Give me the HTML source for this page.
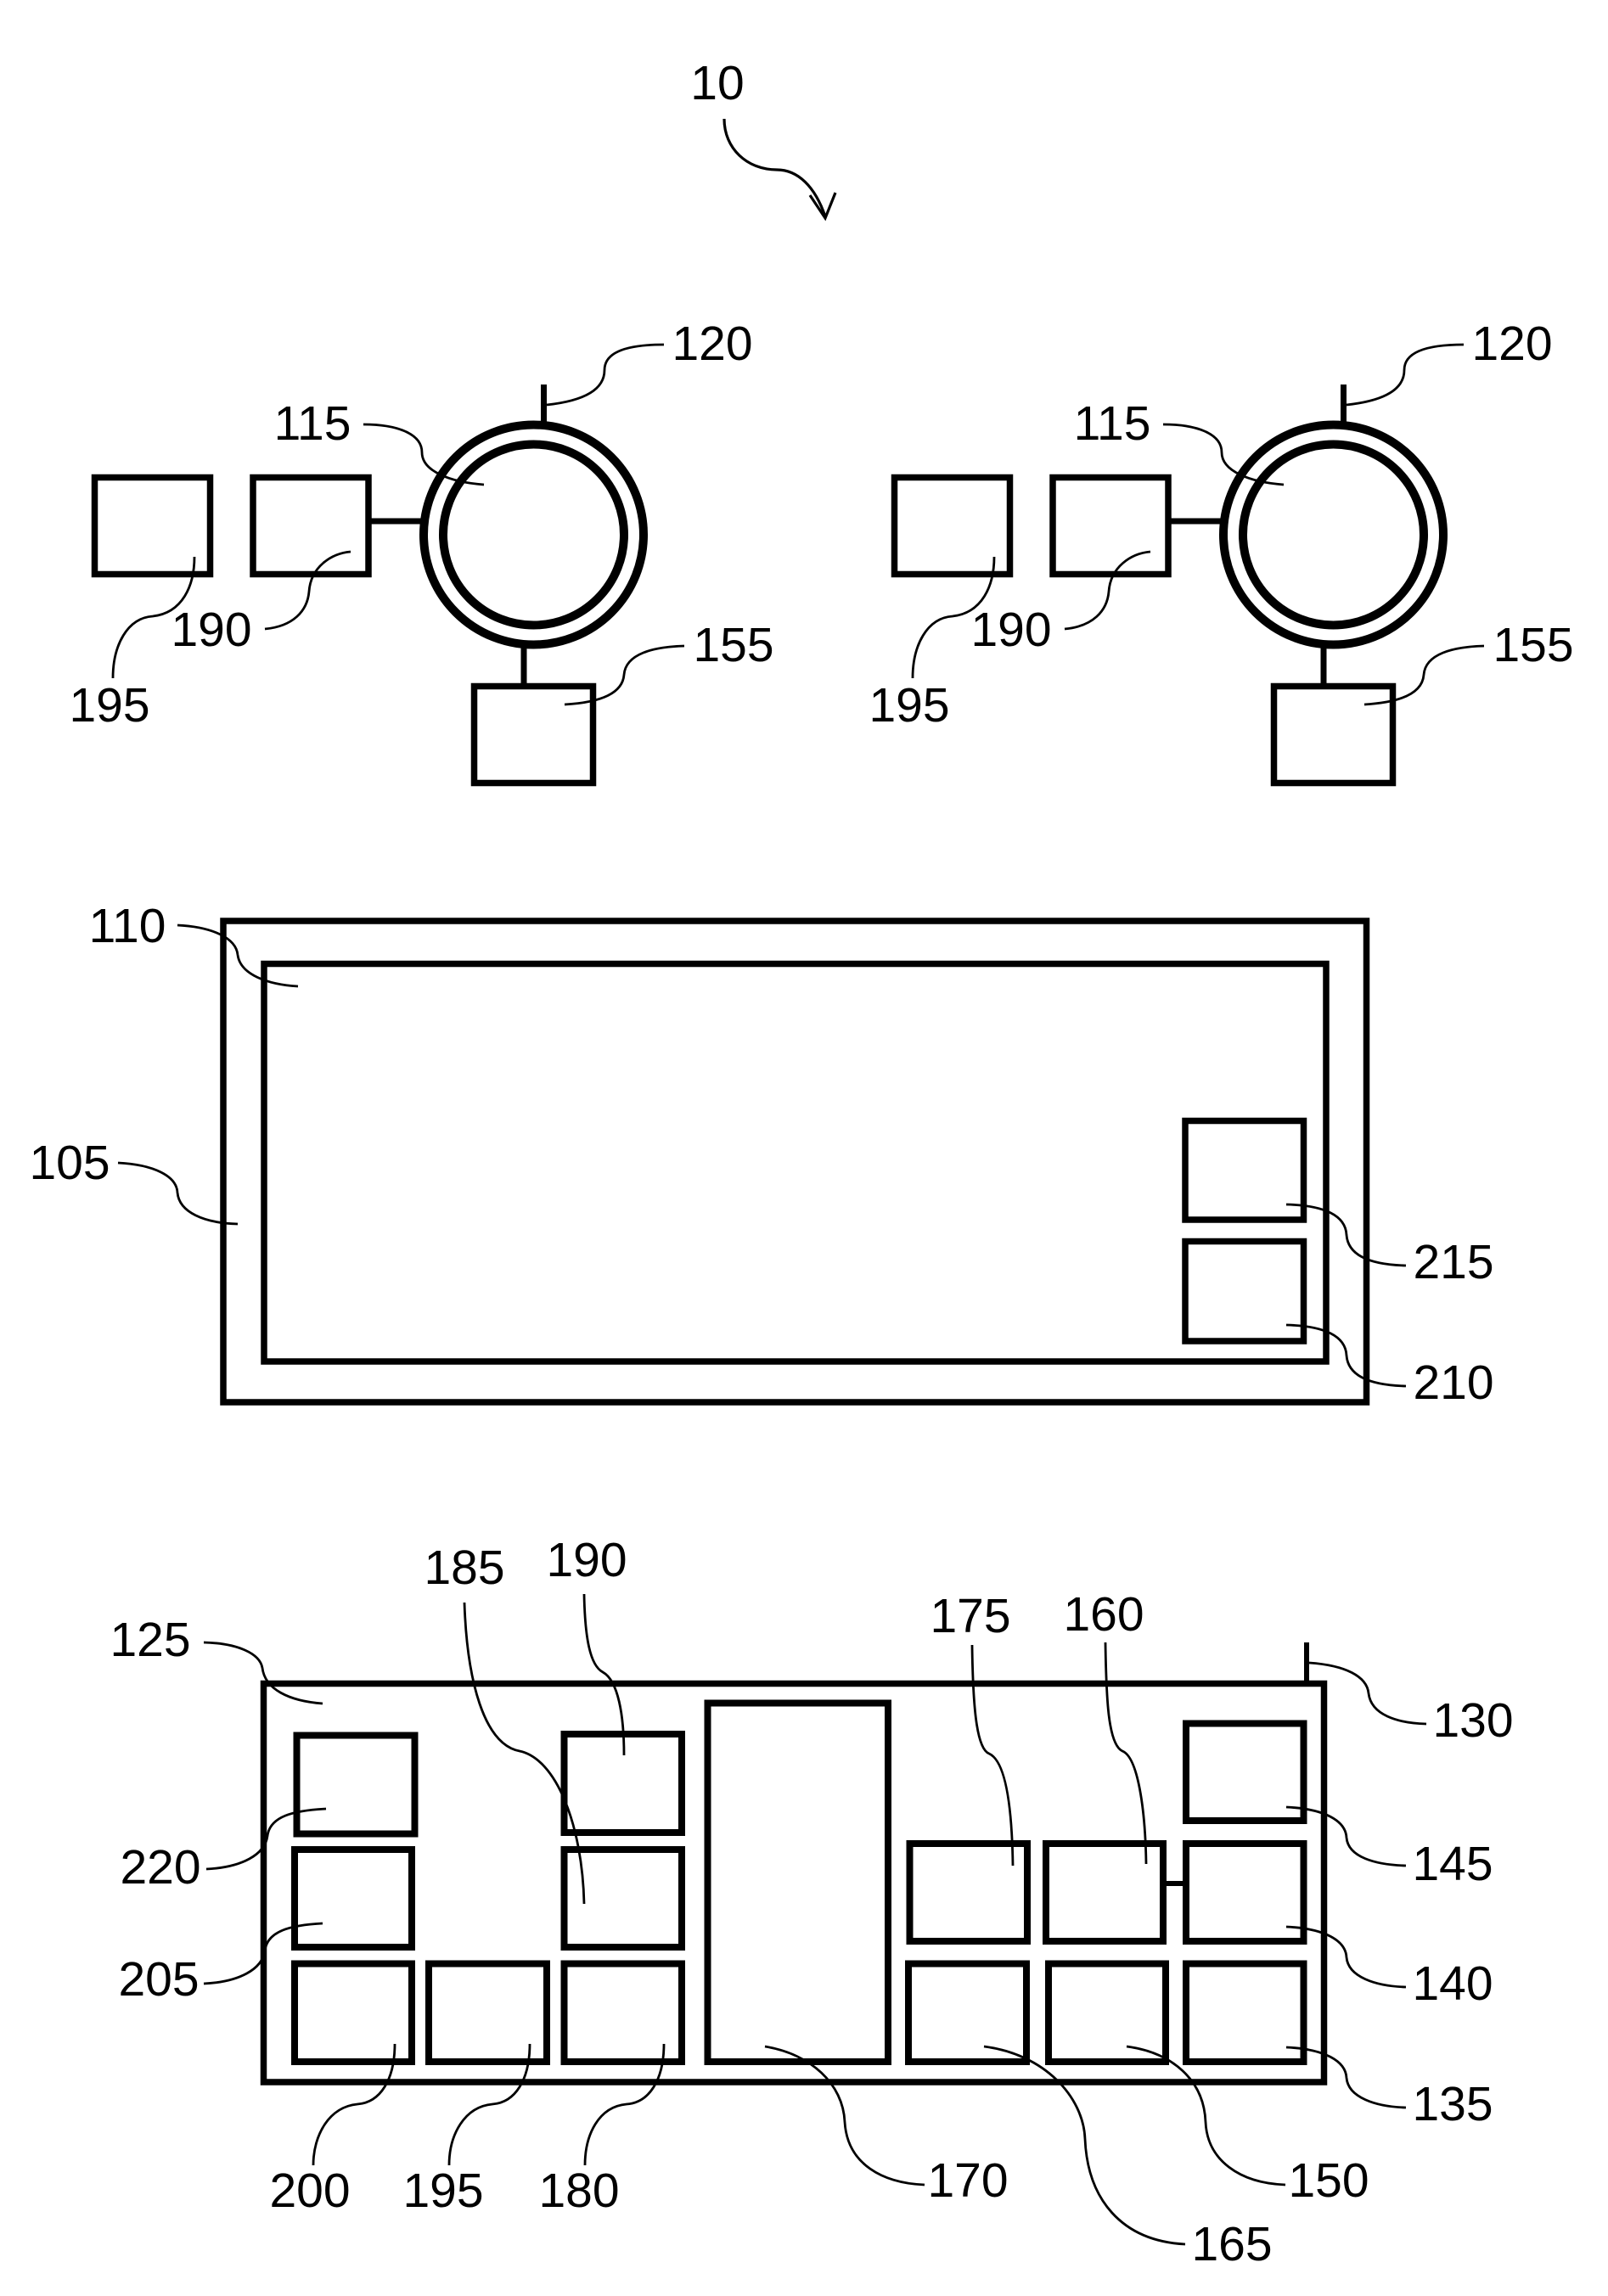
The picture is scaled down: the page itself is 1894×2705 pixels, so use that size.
<!DOCTYPE html>
<html>
<head>
<meta charset="utf-8">
<style>
  html, body { margin: 0; padding: 0; background: #ffffff; }
  svg { display: block; }
  text { font-family: "Liberation Sans", Arial, sans-serif; font-size: 57px; fill: #000; }
</style>
</head>
<body>
<svg width="1894" height="2705" viewBox="0 0 1894 2705" xmlns="http://www.w3.org/2000/svg">
  <rect x="0" y="0" width="1894" height="2705" fill="#fff"/>

  <!-- Figure reference 10 -->
  <text x="845" y="117" text-anchor="middle">10</text>
  <path d="M853,140 C853,175 880,200 915,200 C940,200 960,220 972,255" fill="none" stroke="#000" stroke-width="3.2"/>
  <polyline points="954,230 972,257 984,227" fill="none" stroke="#000" stroke-width="3.2"/>

  <!-- Top group (left), duplicated on right -->
  <g id="topgroup">
    <rect x="111.5" y="562.5" width="136" height="114" fill="none" stroke="#000" stroke-width="7.5"/>
    <rect x="298" y="562.5" width="136" height="114" fill="none" stroke="#000" stroke-width="7.5"/>
    <line x1="437" y1="614" x2="496" y2="614" stroke="#000" stroke-width="7"/>
    <circle cx="628.5" cy="630" r="129.5" fill="none" stroke="#000" stroke-width="10"/>
    <circle cx="628.5" cy="630" r="106.5" fill="none" stroke="#000" stroke-width="10"/>
    <line x1="640.5" y1="453" x2="640.5" y2="497" stroke="#000" stroke-width="7"/>
    <line x1="617" y1="762" x2="617" y2="806" stroke="#000" stroke-width="7"/>
    <rect x="558.5" y="808.5" width="140" height="114" fill="none" stroke="#000" stroke-width="7.5"/>

    <!-- leaders -->
    <path d="M644,477 C690,472 712,458 712,436 C712,414 740,406 782,406" fill="none" stroke="#000" stroke-width="2.8"/>
    <path d="M428,500 C470,500 497,512 497,533 C497,555 530,568 570,571" fill="none" stroke="#000" stroke-width="2.8"/>
    <path d="M312,741 C345,738 362,720 364,697 C366,668 390,652 413,650" fill="none" stroke="#000" stroke-width="2.8"/>
    <path d="M133,799 C133,760 150,728 180,726 C215,722 229,690 229,656" fill="none" stroke="#000" stroke-width="2.8"/>
    <path d="M806,761 C770,762 737,770 735,795 C733,820 700,828 665,830" fill="none" stroke="#000" stroke-width="2.8"/>

    <!-- labels -->
    <text x="839" y="424" text-anchor="middle">120</text>
    <text x="368" y="518" text-anchor="middle">115</text>
    <text x="249" y="761" text-anchor="middle">190</text>
    <text x="129" y="850" text-anchor="middle">195</text>
    <text x="864" y="779" text-anchor="middle">155</text>
  </g>
  <use href="#topgroup" transform="translate(942,0)"/>

  <!-- Middle section: 105 / 110 -->
  <rect x="263" y="1085" width="1346.5" height="567" fill="none" stroke="#000" stroke-width="7.5"/>
  <rect x="311" y="1135.5" width="1251" height="468.5" fill="none" stroke="#000" stroke-width="7.5"/>
  <rect x="1396" y="1320.5" width="139.5" height="116.5" fill="none" stroke="#000" stroke-width="7.5"/>
  <rect x="1396" y="1462.5" width="139.5" height="117.5" fill="none" stroke="#000" stroke-width="7.5"/>

  <path d="M209,1090 C250,1092 278,1105 280,1125 C283,1148 315,1160 351,1162" fill="none" stroke="#000" stroke-width="2.8"/>
  <path d="M139,1370 C180,1372 208,1385 209,1405 C211,1428 240,1441 280,1442" fill="none" stroke="#000" stroke-width="2.8"/>
  <path d="M1515,1419 C1560,1420 1585,1432 1586,1455 C1588,1480 1615,1490 1656,1491" fill="none" stroke="#000" stroke-width="2.8"/>
  <path d="M1515,1561 C1560,1562 1585,1574 1586,1597 C1588,1622 1615,1632 1656,1633" fill="none" stroke="#000" stroke-width="2.8"/>

  <text x="150" y="1110" text-anchor="middle">110</text>
  <text x="82" y="1389" text-anchor="middle">105</text>
  <text x="1712" y="1506" text-anchor="middle">215</text>
  <text x="1712" y="1648" text-anchor="middle">210</text>

  <!-- Bottom section: 125 -->
  <rect x="310.5" y="1983.5" width="1249" height="469.5" fill="none" stroke="#000" stroke-width="7.5"/>

  <!-- left column -->
  <rect x="349.5" y="2044.5" width="139" height="116" fill="none" stroke="#000" stroke-width="8"/>
  <rect x="347" y="2179" width="138" height="115" fill="none" stroke="#000" stroke-width="8"/>
  <rect x="347" y="2313.5" width="138" height="115.5" fill="none" stroke="#000" stroke-width="8"/>
  <!-- 195 -->
  <rect x="505" y="2313.5" width="139" height="115.5" fill="none" stroke="#000" stroke-width="8"/>
  <!-- 190 / 185 / 180 -->
  <rect x="664.5" y="2043" width="138.5" height="116" fill="none" stroke="#000" stroke-width="8"/>
  <rect x="664.5" y="2179" width="138.5" height="115" fill="none" stroke="#000" stroke-width="8"/>
  <rect x="664.5" y="2313.5" width="138.5" height="115.5" fill="none" stroke="#000" stroke-width="8"/>
  <!-- 170 -->
  <rect x="833.5" y="2006.5" width="212.5" height="422.5" fill="none" stroke="#000" stroke-width="8"/>
  <!-- 175 / 160 -->
  <rect x="1071.5" y="2172" width="138.5" height="115" fill="none" stroke="#000" stroke-width="8"/>
  <rect x="1232" y="2172" width="138" height="115" fill="none" stroke="#000" stroke-width="8"/>
  <!-- 165 / 150 -->
  <rect x="1070" y="2313.5" width="139" height="115.5" fill="none" stroke="#000" stroke-width="8"/>
  <rect x="1235" y="2313.5" width="138" height="115.5" fill="none" stroke="#000" stroke-width="8"/>
  <!-- 145 / 140 / 135 -->
  <rect x="1397" y="2030.5" width="138.5" height="114.5" fill="none" stroke="#000" stroke-width="8"/>
  <rect x="1397" y="2172" width="138.5" height="115" fill="none" stroke="#000" stroke-width="8"/>
  <rect x="1397" y="2313.5" width="138.5" height="115.5" fill="none" stroke="#000" stroke-width="8"/>
  <!-- connector 160-140 -->
  <line x1="1373" y1="2219" x2="1394" y2="2219" stroke="#000" stroke-width="6"/>
  <!-- tick 130 -->
  <line x1="1539" y1="1935" x2="1539" y2="1984" stroke="#000" stroke-width="6"/>

  <!-- bottom leaders -->
  <path d="M240,1935 C280,1936 306,1948 309,1965 C312,1990 340,2004 380,2007" fill="none" stroke="#000" stroke-width="2.8"/>
  <path d="M547,1888 C550,1980 570,2055 612,2063 C655,2072 686,2150 688,2243" fill="none" stroke="#000" stroke-width="2.8"/>
  <path d="M688,1878 C689,1930 695,1962 710,1970 C728,1980 735,2020 735,2068" fill="none" stroke="#000" stroke-width="2.8"/>
  <path d="M1145,1938 C1146,2010 1150,2060 1165,2066 C1185,2075 1192,2130 1193,2198" fill="none" stroke="#000" stroke-width="2.8"/>
  <path d="M1302,1935 C1303,2000 1305,2055 1322,2063 C1340,2070 1349,2130 1350,2196" fill="none" stroke="#000" stroke-width="2.8"/>
  <path d="M1542,1959 C1585,1962 1610,1975 1612,1995 C1615,2020 1645,2030 1680,2031" fill="none" stroke="#000" stroke-width="2.8"/>
  <path d="M1515,2129 C1560,2131 1585,2145 1586,2165 C1588,2188 1620,2197 1656,2198" fill="none" stroke="#000" stroke-width="2.8"/>
  <path d="M1515,2270 C1560,2272 1585,2286 1586,2306 C1588,2329 1620,2340 1656,2341" fill="none" stroke="#000" stroke-width="2.8"/>
  <path d="M1515,2412 C1560,2414 1585,2428 1586,2448 C1588,2471 1620,2482 1656,2483" fill="none" stroke="#000" stroke-width="2.8"/>
  <path d="M1327,2411 C1380,2418 1418,2450 1420,2500 C1422,2545 1460,2572 1514,2574" fill="none" stroke="#000" stroke-width="2.8"/>
  <path d="M1159,2411 C1230,2420 1276,2470 1278,2520 C1281,2590 1320,2640 1396,2644" fill="none" stroke="#000" stroke-width="2.8"/>
  <path d="M901,2411 C955,2420 993,2455 995,2500 C998,2550 1040,2572 1089,2574" fill="none" stroke="#000" stroke-width="2.8"/>
  <path d="M782,2408 C782,2450 765,2477 738,2479 C705,2482 689,2515 689,2551" fill="none" stroke="#000" stroke-width="2.8"/>
  <path d="M624,2408 C624,2450 607,2477 580,2479 C547,2482 529,2515 529,2551" fill="none" stroke="#000" stroke-width="2.8"/>
  <path d="M465,2408 C465,2450 448,2477 421,2479 C388,2482 369,2515 369,2551" fill="none" stroke="#000" stroke-width="2.8"/>
  <path d="M243,2202 C285,2200 312,2185 315,2163 C318,2140 345,2133 384,2131" fill="none" stroke="#000" stroke-width="2.8"/>
  <path d="M240,2337 C282,2335 309,2320 312,2298 C315,2275 342,2268 380,2266" fill="none" stroke="#000" stroke-width="2.8"/>

  <!-- bottom labels -->
  <text x="177" y="1951" text-anchor="middle">125</text>
  <text x="547" y="1866" text-anchor="middle">185</text>
  <text x="691" y="1857" text-anchor="middle">190</text>
  <text x="1143" y="1923" text-anchor="middle">175</text>
  <text x="1300" y="1921" text-anchor="middle">160</text>
  <text x="1735" y="2046" text-anchor="middle">130</text>
  <text x="1711" y="2215" text-anchor="middle">145</text>
  <text x="1711" y="2356" text-anchor="middle">140</text>
  <text x="1711" y="2498" text-anchor="middle">135</text>
  <text x="1565" y="2588" text-anchor="middle">150</text>
  <text x="1451" y="2663" text-anchor="middle">165</text>
  <text x="1140" y="2588" text-anchor="middle">170</text>
  <text x="682" y="2600" text-anchor="middle">180</text>
  <text x="522" y="2600" text-anchor="middle">195</text>
  <text x="365" y="2600" text-anchor="middle">200</text>
  <text x="189" y="2219" text-anchor="middle">220</text>
  <text x="187" y="2351" text-anchor="middle">205</text>
</svg>
</body>
</html>
